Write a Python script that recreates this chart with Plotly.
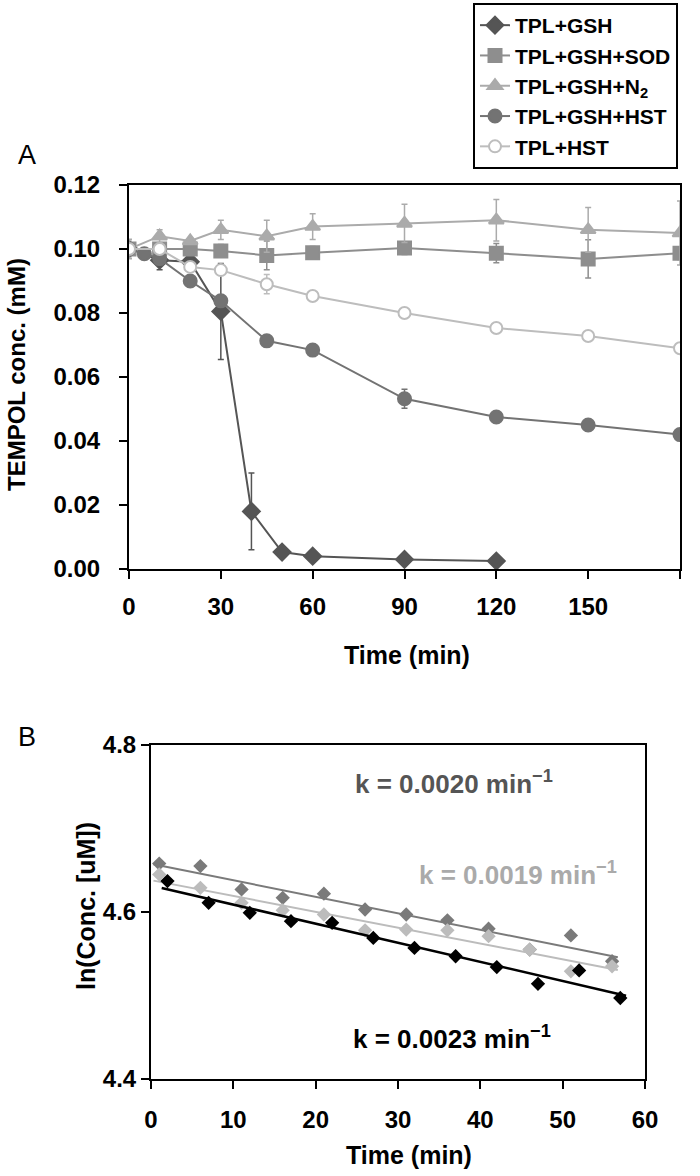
import numpy as np
import plotly.graph_objects as go

# ---------------- Panel A data ----------------
t_gsh = [0, 10, 20, 30, 40, 50, 60, 90, 120]
c_gsh = [0.100, 0.0965, 0.096, 0.0805, 0.018, 0.0053, 0.0040, 0.0030, 0.0025]
e_gsh = [0.002, 0.003, 0.001, 0.015, 0.012, 0.0005, 0.0005, 0.0005, 0.0005]

t_sod = [0, 10, 20, 30, 45, 60, 90, 120, 150, 180]
c_sod = [0.100, 0.100, 0.100, 0.0994, 0.098, 0.0988, 0.1003, 0.0987, 0.0969, 0.0987]
e_sod = [0.003, 0.001, 0.001, 0.002, 0.0045, 0.002, 0.002, 0.003, 0.006, 0.002]

t_n2 = [0, 10, 20, 30, 45, 60, 90, 120, 150, 180]
c_n2 = [0.100, 0.104, 0.1025, 0.106, 0.104, 0.107, 0.108, 0.109, 0.106, 0.105]
e_n2 = [0.003, 0.002, 0.001, 0.003, 0.005, 0.004, 0.006, 0.0065, 0.007, 0.010]

t_hst = [0, 5, 10, 20, 30, 45, 60, 90, 120, 150, 180]
c_hst = [0.100, 0.0985, 0.097, 0.090, 0.0838, 0.0713, 0.0684, 0.0532, 0.0475, 0.0450, 0.0420]
e_hst = [0.001, 0.001, 0.001, 0.001, 0.001, 0.001, 0.001, 0.003, 0.001, 0.001, 0.001]

t_tplhst = [0, 10, 20, 30, 45, 60, 90, 120, 150, 180]
c_tplhst = [0.100, 0.100, 0.0944, 0.0934, 0.089, 0.0853, 0.0800, 0.0753, 0.0728, 0.0690]
e_tplhst = [0.001, 0.001, 0.001, 0.001, 0.003, 0.001, 0.001, 0.001, 0.001, 0.001]

# ---------------- Panel B data ----------------
tb_dark = [1, 6, 11, 16, 21, 26, 31, 36, 41, 46, 51, 56]
lb_dark = [4.658, 4.655, 4.627, 4.617, 4.622, 4.603, 4.597, 4.590, 4.580, 4.555, 4.572, 4.541]

tb_light = [1, 6, 11, 16, 21, 26, 31, 36, 41, 46, 51, 56]
lb_light = [4.645, 4.629, 4.611, 4.602, 4.597, 4.578, 4.579, 4.578, 4.571, 4.555, 4.529, 4.535]

tb_black = [2, 7, 12, 17, 22, 27, 32, 37, 42, 47, 52, 57]
lb_black = [4.637, 4.611, 4.599, 4.589, 4.587, 4.569, 4.557, 4.547, 4.534, 4.514, 4.530, 4.497]

k_labels = ["k = 0.0020 min<sup>−1</sup>", "k = 0.0019 min<sup>−1</sup>", "k = 0.0023 min<sup>−1</sup>"]

W, H = 700, 1176
def px(x):
    return x / W
def py(y):
    return 1 - y / H

FONT = "Liberation Sans, Arial"

fig = go.Figure()

series_a = [
    ("TPL+GSH", t_gsh, c_gsh, e_gsh, "#555555", "diamond", "#555555", 13),
    ("TPL+GSH+SOD", t_sod, c_sod, e_sod, "#8e8e8e", "square", "#8e8e8e", 13),
    ("TPL+GSH+N<sub>2</sub>", t_n2, c_n2, e_n2, "#ababab", "triangle-up", "#ababab", 13),
    ("TPL+GSH+HST", t_hst, c_hst, e_hst, "#737373", "circle", "#737373", 13),
    ("TPL+HST", t_tplhst, c_tplhst, e_tplhst, "#bdbdbd", "circle", "white", 12),
]
for name, t, c, e, col, sym, fill, sz in series_a:
    fig.add_trace(go.Scatter(
        x=t, y=c, name=name, mode="lines+markers",
        line=dict(color=col, width=2),
        marker=dict(symbol=sym, size=sz, color=fill, line=dict(color=col, width=2)),
        error_y=dict(type="data", array=e, visible=True, color=col, thickness=1.5, width=3),
        xaxis="x", yaxis="y", showlegend=True,
    ))

# Panel B
series_b = [
    (tb_dark, lb_dark, "#7a7a7a", 2),
    (tb_light, lb_light, "#bcbcbc", 2),
    (tb_black, lb_black, "#000000", 2.5),
]
for t, l, col, lw in series_b:
    fig.add_trace(go.Scatter(
        x=t, y=l, mode="markers", showlegend=False,
        marker=dict(symbol="diamond", size=11, color=col),
        xaxis="x2", yaxis="y2",
    ))
    p = np.polyfit(t, l, 1)
    xs = np.array([min(t) - 0.7, max(t) + 0.7])
    fig.add_trace(go.Scatter(
        x=xs, y=np.polyval(p, xs), mode="lines", showlegend=False,
        line=dict(color=col, width=lw), xaxis="x2", yaxis="y2",
    ))

def axis_common(standoff=0):
    return dict(
        showline=True, linecolor="black", linewidth=2, mirror=True,
        ticks="outside", ticklen=8, tickwidth=2, tickcolor="black",
        showgrid=False, zeroline=False, ticklabelstandoff=standoff,
        tickfont=dict(family=FONT, size=24, color="black", weight="bold"),
    )

fig.update_layout(
    width=W, height=H,
    margin=dict(l=0, r=0, t=0, b=0, autoexpand=False),
    paper_bgcolor="white", plot_bgcolor="white",
    xaxis=dict(domain=[px(129), px(680)], range=[0, 180], tickvals=[0, 30, 60, 90, 120, 150, 180],
               anchor="y", **axis_common(7)),
    yaxis=dict(domain=[py(569), py(185)], range=[0, 0.12], tickvals=[0, 0.02, 0.04, 0.06, 0.08, 0.10, 0.12],
               tickformat=".2f", anchor="x", **axis_common(14)),
    xaxis2=dict(domain=[px(151), px(645)], range=[0, 60], tickvals=[0, 10, 20, 30, 40, 50, 60],
                anchor="y2", **axis_common(10)),
    yaxis2=dict(domain=[py(1079), py(745)], range=[4.4, 4.8], tickvals=[4.4, 4.6, 4.8],
                tickformat=".1f", anchor="x2", **axis_common(0)),
    legend=dict(
        x=px(678), y=py(3), xanchor="right", yanchor="top",
        bordercolor="black", borderwidth=2, bgcolor="white",
        font=dict(family=FONT, size=21, color="black", weight="bold"),
        tracegroupgap=0, itemwidth=30,
    ),
    showlegend=True,
)

ann = [
    dict(text="A", x=px(16), y=py(155), font=dict(family=FONT, size=27, color="black"), xanchor="left", yanchor="middle"),
    dict(text="B", x=px(16), y=py(737), font=dict(family=FONT, size=27, color="black"), xanchor="left", yanchor="middle"),
    dict(text="<b>TEMPOL conc. (mM)</b>", x=px(16), y=py(375), textangle=-90,
         font=dict(family=FONT, size=24, color="black"), xanchor="center", yanchor="middle"),
    dict(text="<b>Time (min)</b>", x=px(407), y=py(655), font=dict(family=FONT, size=25, color="black"),
         xanchor="center", yanchor="middle"),
    dict(text="<b>ln(Conc. [uM])</b>", x=px(86), y=py(906), textangle=-90,
         font=dict(family=FONT, size=25, color="black"), xanchor="center", yanchor="middle"),
    dict(text="<b>Time (min)</b>", x=px(409), y=py(1155), font=dict(family=FONT, size=25, color="black"),
         xanchor="center", yanchor="middle"),
    dict(text="<b>" + k_labels[0] + "</b>", x=px(454), y=py(782), font=dict(family=FONT, size=26, color="#555555"),
         xanchor="center", yanchor="middle"),
    dict(text="<b>" + k_labels[1] + "</b>", x=px(518), y=py(873), font=dict(family=FONT, size=26, color="#aaaaaa"),
         xanchor="center", yanchor="middle"),
    dict(text="<b>" + k_labels[2] + "</b>", x=px(452), y=py(1037), font=dict(family=FONT, size=26, color="#000000"),
         xanchor="center", yanchor="middle"),
]
for a in ann:
    a.update(xref="paper", yref="paper", showarrow=False)
fig.update_layout(annotations=ann)

fig.write_html(
    "out.html",
    config={"displayModeBar": False},
    post_script="document.body.style.margin='0';document.body.style.overflow='hidden';"
                "document.documentElement.style.overflow='hidden';",
)
